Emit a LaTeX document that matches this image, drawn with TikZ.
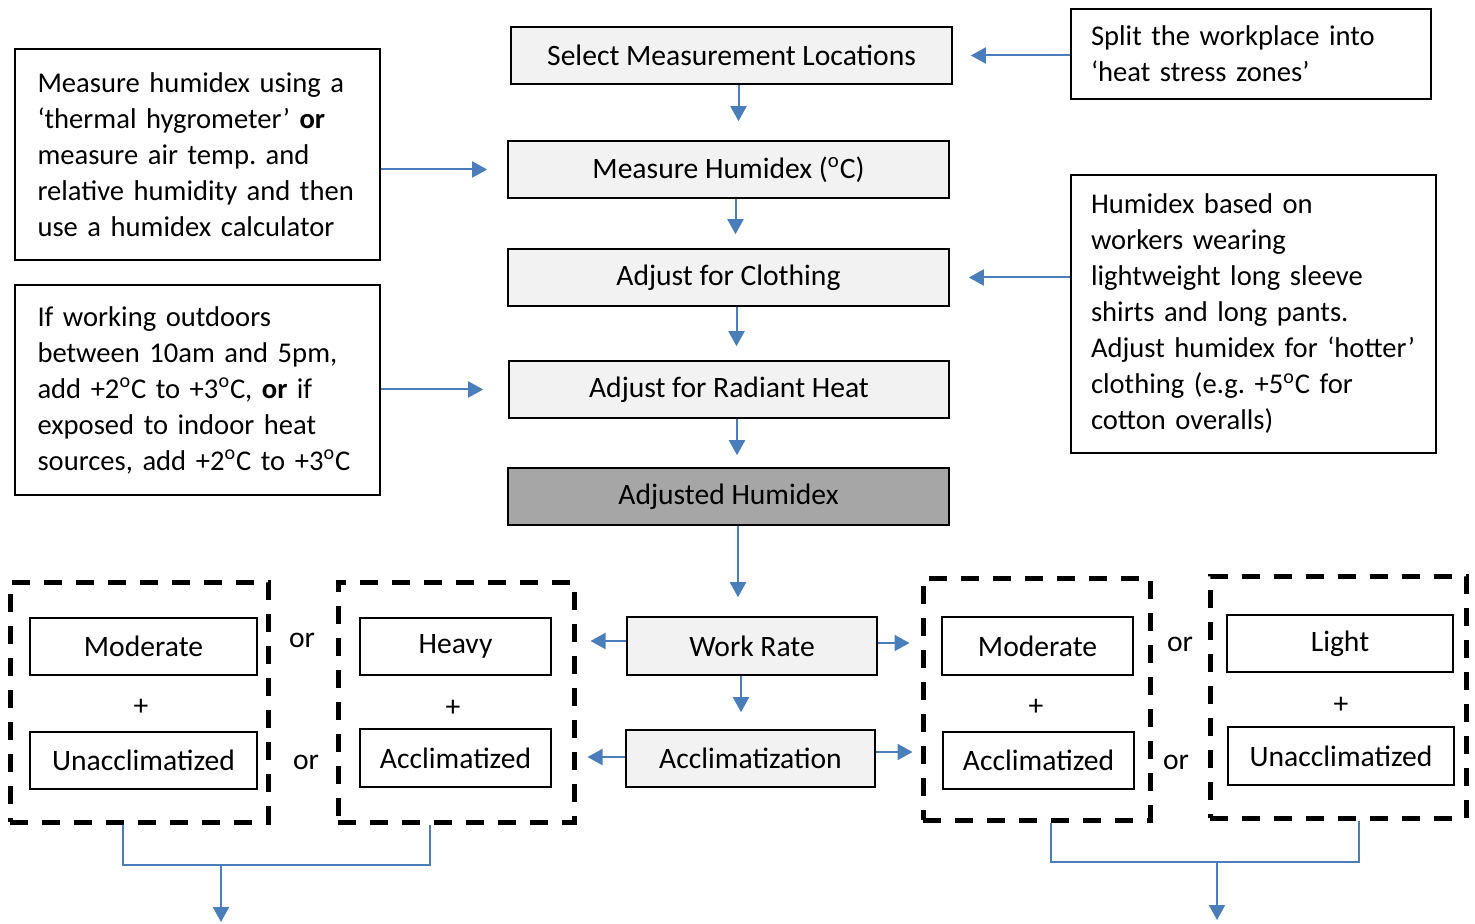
\documentclass[tikz,border=0pt]{standalone}
\usepackage{fontspec}
\setmainfont{Carlito}
\usetikzlibrary{arrows.meta,calc}
\definecolor{arrowblue}{HTML}{4A7EBB}
\definecolor{boxgray}{HTML}{F2F2F2}
\definecolor{darkfill}{HTML}{A6A6A6}
\begin{document}
\frenchspacing
\begin{tikzpicture}[x=0.5pt,y=-0.5pt,
  every node/.style={font=\fontsize{14.8}{18}\selectfont},
  sz/.style 2 args={minimum width=#1*0.5pt,minimum height=#2*0.5pt,inner sep=0pt},
  flow/.style={draw=black,line width=0.8pt,fill=boxgray},
  plain/.style={draw=black,line width=0.8pt},
  note/.style={draw=black,line width=0.8pt,align=left,inner xsep=10pt,inner ysep=0pt,font=\fontsize{14.3}{18}\selectfont},
  group/.style={draw=black,line width=2.5pt,dash pattern=on 9pt off 7pt,inner sep=0pt},
  conn/.style={draw=arrowblue,line width=1pt},
  arr/.style={conn,-{Triangle[length=7.5pt,width=8pt]}},
  lbl/.style={inner sep=0pt}
]
\useasboundingbox (0,0) rectangle (1475,924);
% central column
\node[flow,sz={441}{57}] (sel) at (731.5,55.5) {Select Measurement Locations};
\node[flow,sz={441}{57}] (meas) at (728.5,169.5) {Measure Humidex (\textsuperscript{o}C)};
\node[flow,sz={441}{57}] (cloth) at (728.5,277.5) {Adjust for Clothing};
\node[flow,sz={440}{57}] (rad) at (729,389.5) {Adjust for Radiant Heat};
\node[flow,sz={441}{57},fill=darkfill] (adj) at (728.5,496.5) {Adjusted Humidex};
% side notes
\node[note,text width=160pt,minimum width=182.5pt,minimum height=105.5pt] (left1) at (197.5,154.5)
 {Measure humidex using a\\ ‘thermal hygrometer’ \textbf{or}\\ measure air temp. and\\ relative humidity and then\\ use a humidex calculator};
\node[note,text width=160pt,minimum width=182.5pt,minimum height=105pt] (left2) at (197.5,390)
 {If working outdoors\\ between 10am and 5pm,\\ add +2\textsuperscript{o}C to +3\textsuperscript{o}C, \textbf{or} if\\ exposed to indoor heat\\ sources, add +2\textsuperscript{o}C to +3\textsuperscript{o}C};
\node[note,text width=160pt,minimum width=180pt,minimum height=45pt] (split) at (1251,54)
 {Split the workplace into\\ ‘heat stress zones’};
\node[note,text width=162.5pt,minimum width=182.5pt,minimum height=139pt] (right2) at (1253.5,314)
 {Humidex based on\\ workers wearing\\ lightweight long sleeve\\ shirts and long pants.\\ Adjust humidex for ‘hotter’\\ clothing (e.g. +5\textsuperscript{o}C for\\ cotton overalls)};
% work rate / acclimatization
\node[flow,sz={250}{58}] (work) at (752,646) {Work Rate};
\node[flow,sz={249}{57}] (accl) at (750.5,758.5) {Acclimatization};
% dashed groups
\node[group,sz={258}{240}] (d1) at (139,702) {};
\node[group,sz={236}{240}] (d2) at (456,702) {};
\node[group,sz={227}{242}] (d3) at (1036.5,699) {};
\node[group,sz={256}{242}] (d4) at (1338,697) {};
% inner boxes
\node[plain,sz={227}{57}] (mod1) at (143.5,646.5) {Moderate};
\node[plain,sz={227}{57}] (una1) at (143.5,760.5) {Unacclimatized};
\node[plain,sz={191}{57}] (heavy) at (455.5,646.5) {Heavy};
\node[plain,sz={191}{58}] (acc1) at (455.5,758) {Acclimatized};
\node[plain,sz={191}{58}] (mod2) at (1037.5,646) {Moderate};
\node[plain,sz={191}{57}] (acc2) at (1038.5,760.5) {Acclimatized};
\node[plain,sz={226}{57}] (light) at (1340,643.5) {Light};
\node[plain,sz={226}{58}] (una2) at (1341,756) {Unacclimatized};
% plus and or labels
\node[lbl] (p1) at (141,707) {+};
\node[lbl] (p2) at (453,708) {+};
\node[lbl] (p3) at (1036,707) {+};
\node[lbl] (p4) at (1341,705) {+};
\node[lbl] (or1) at (302,640) {or};
\node[lbl] (or2) at (306,762) {or};
\node[lbl] (or3) at (1180,644) {or};
\node[lbl] (or4) at (1176,762) {or};
% central arrows
\draw[arr,shorten >=9.5pt] ([xshift=3.5pt]sel.south) -- ([xshift=3.5pt]sel.south |- meas.north);
\draw[arr,shorten >=7pt] ([xshift=3.5pt]meas.south) -- ([xshift=3.5pt]meas.south |- cloth.north);
\draw[arr,shorten >=7pt] ([xshift=4pt]cloth.south) -- ([xshift=4pt]cloth.south |- rad.north);
\draw[arr,shorten >=6pt] ([xshift=4pt]rad.south) -- ([xshift=4pt]rad.south |- adj.north);
% side arrows
\draw[arr,shorten >=10pt] (left1.east |- meas) -- (meas.west);
\draw[arr,shorten >=12.5pt] (left2.east |- rad) -- (rad.west);
\draw[arr,shorten >=9pt] (split.west |- sel) -- (sel.east);
\draw[arr,shorten >=9.5pt] (right2.west |- cloth) -- (cloth.east);
% to work rate
\draw[arr,shorten >=9.5pt] ([xshift=4.75pt]adj.south) -- ([xshift=4.75pt]adj.south |- work.north);
\draw[arr,shorten >=7pt] ([yshift=2.5pt]work.west) -- ([yshift=2.5pt]work.west -| d2.east);
\draw[arr,shorten >=5.5pt] ([yshift=1.5pt]work.east) -- ([yshift=1.5pt]work.east -| d3.west);
\draw[arr,shorten >=8.5pt] ([xshift=-5.5pt]work.south) -- ([xshift=-5.5pt]work.south |- accl.north);
\draw[arr,shorten >=5.5pt] ([yshift=0.75pt]accl.west) -- ([yshift=0.75pt]accl.west -| d2.east);
\draw[arr,shorten >=4pt] ([yshift=3.25pt]accl.east) -- ([yshift=3.25pt]accl.east -| d3.west);
% bottom brackets
\coordinate (j1) at (221,865);
\coordinate (e1) at (221,922);
\coordinate (j2) at (1217,862);
\coordinate (e2) at (1217,920);
\draw[conn] ([xshift=-8pt]d1.south) |- (j1) -| ([xshift=-13pt]d2.south);
\draw[arr] (j1) -- (e1);
\draw[conn] ([xshift=7.25pt]d3.south) |- (j2) -| ([xshift=10.5pt]d4.south);
\draw[arr] (j2) -- (e2);
\end{tikzpicture}
\end{document}
